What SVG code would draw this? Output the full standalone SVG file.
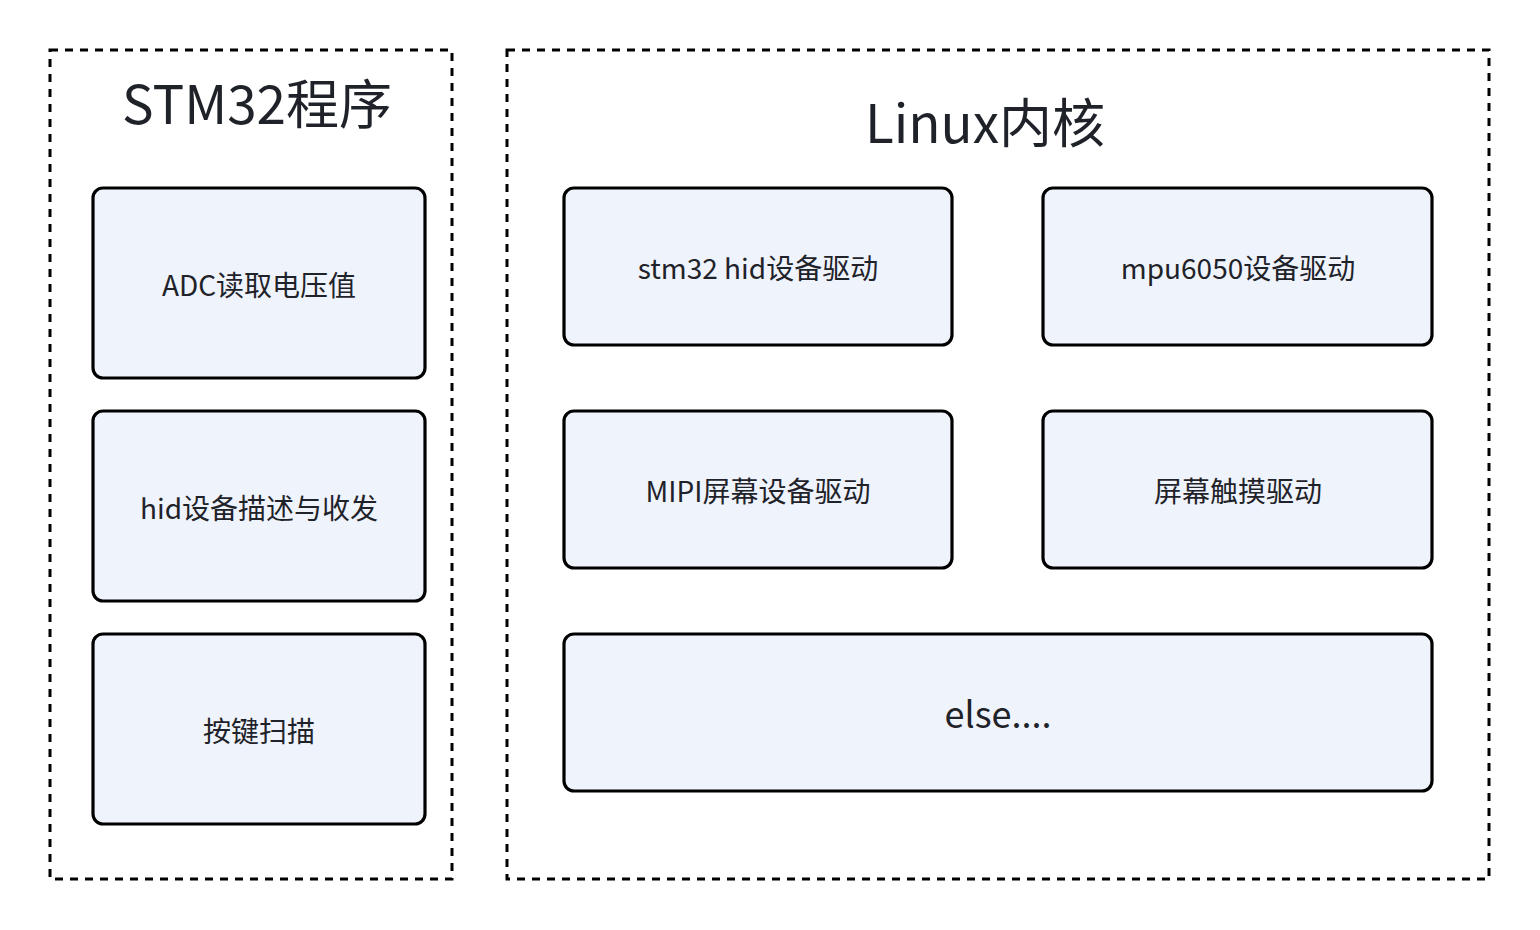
<svg xmlns="http://www.w3.org/2000/svg" width="1540" height="930" viewBox="0 0 1540 930">
<style>
.grp{fill:none;stroke:#000;stroke-width:3;stroke-dasharray:8 7}
.box{fill:#eff3fc;stroke:#000;stroke-width:3.2}
text{font-family:"Noto Sans CJK SC","Noto Sans",sans-serif;fill:#1f2329;text-anchor:middle}
.t{font-size:53px}
.n{font-size:28px}
.e{font-size:36px}
</style>
<rect width="1540" height="930" fill="#fff"/>
<g id="stm32">
<rect class="grp" x="50" y="50" width="402" height="829"/>
<text class="t" x="257" y="124">STM32程序</text>
</g>
<g id="linux">
<rect class="grp" x="507" y="50" width="982" height="829"/>
<text class="t" x="985" y="143">Linux内核</text>
</g>
<g id="adc"><rect class="box" x="93" y="188" width="332" height="190" rx="10"/><text class="n" x="259" y="296">ADC读取电压值</text></g>
<g id="hid"><rect class="box" x="93" y="411" width="332" height="190" rx="10"/><text class="n" x="259" y="519">hid设备描述与收发</text></g>
<g id="key"><rect class="box" x="93" y="634" width="332" height="190" rx="10"/><text class="n" x="259" y="742">按键扫描</text></g>
<g id="stmhid"><rect class="box" x="564" y="188" width="388" height="157" rx="10"/><text class="n" x="758" y="279">stm32 hid设备驱动</text></g>
<g id="mpu"><rect class="box" x="1043" y="188" width="389" height="157" rx="10"/><text class="n" x="1238" y="279">mpu6050设备驱动</text></g>
<g id="mipi"><rect class="box" x="564" y="411" width="388" height="157" rx="10"/><text class="n" x="758" y="502">MIPI屏幕设备驱动</text></g>
<g id="touch"><rect class="box" x="1043" y="411" width="389" height="157" rx="10"/><text class="n" x="1238" y="502">屏幕触摸驱动</text></g>
<g id="else"><rect class="box" x="564" y="634" width="868" height="157" rx="10"/><text class="e" x="998" y="728">else....</text></g>
<g id="connectors"></g>
</svg>
